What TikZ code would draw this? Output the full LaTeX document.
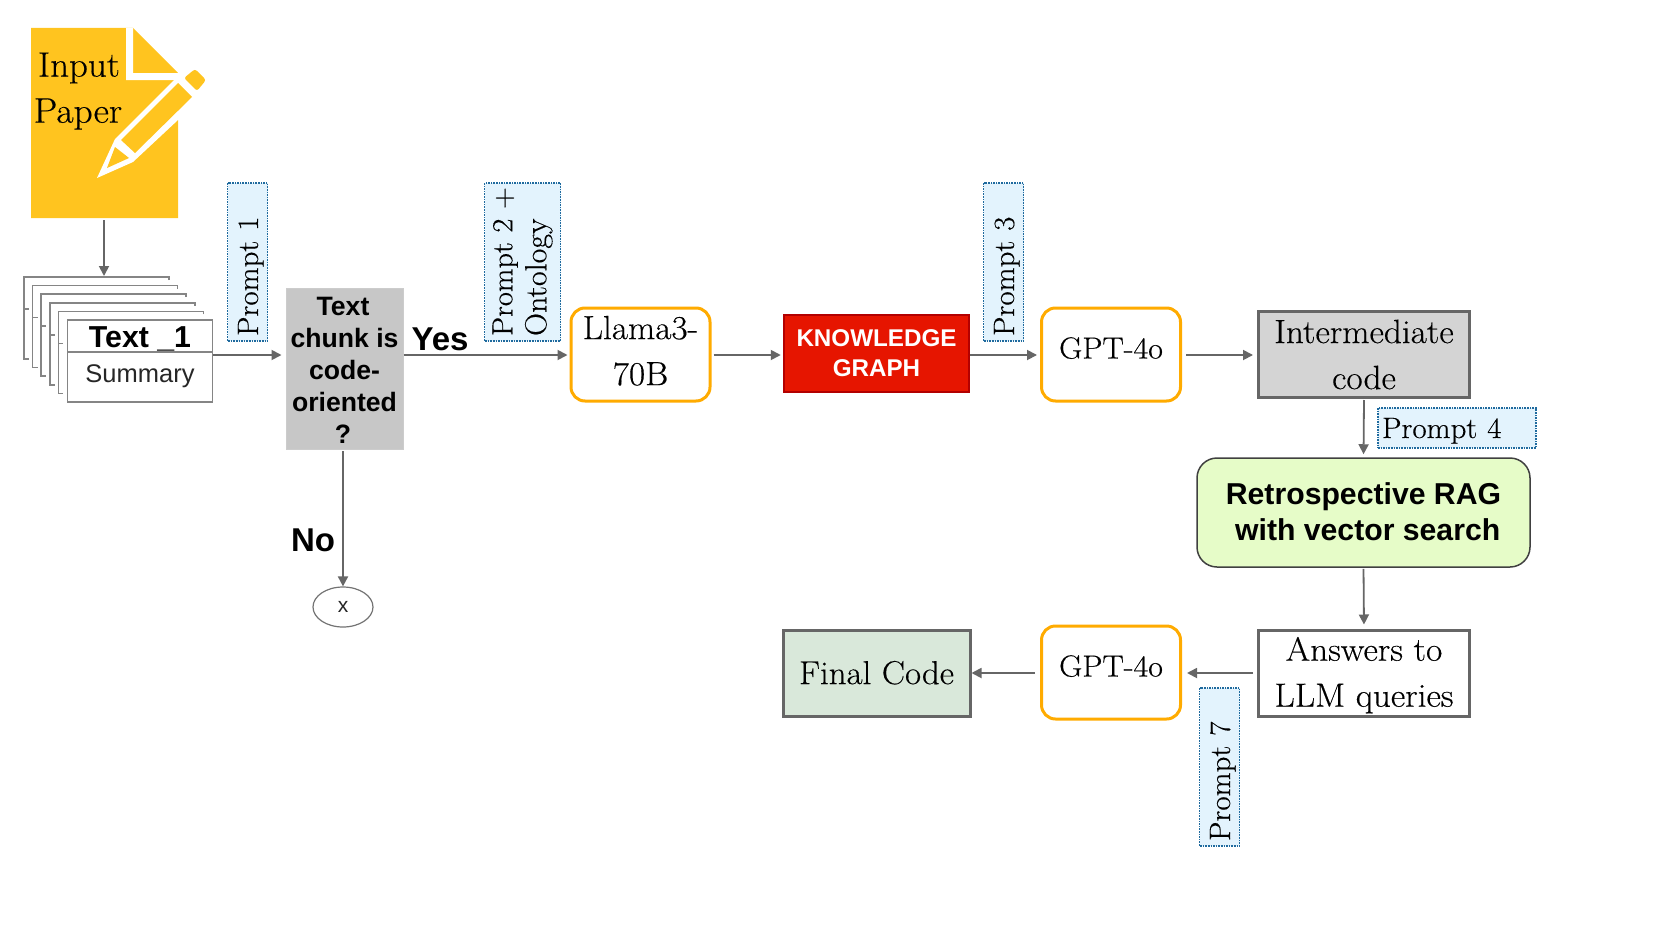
\documentclass[tikz,border=0pt]{standalone}
\usepackage{fontspec}
\setmainfont{Latin Modern Roman}[FakeStretch=1.05,FakeBold=0.3]
\newfontfamily\arial{Liberation Sans}
\usetikzlibrary{arrows.meta,calc,shapes.geometric}
\definecolor{conn}{HTML}{666666}
\definecolor{docy}{HTML}{FFC41F}
\definecolor{orng}{HTML}{FFAB00}
\definecolor{pfill}{HTML}{E3F3FD}
\definecolor{pline}{HTML}{1F6A9E}
\definecolor{kgred}{HTML}{E61500}
\definecolor{kgedge}{HTML}{B30000}
\definecolor{ragfill}{HTML}{E6FCC8}
\definecolor{finalfill}{HTML}{D9E8DA}
\tikzset{
  arr/.style={draw=conn,line width=1.8pt,-{Triangle[length=10pt,width=10pt]}},
  serif32/.style={font=\fontsize{33.6}{46}\selectfont,align=center,inner sep=0pt,text=black},
  bbox/.style={rectangle,inner sep=0pt,align=center},
  grayedge/.style={draw=conn,line width=3pt,serif32},
  llm/.style={draw=orng,line width=3pt,fill=white,rounded corners=14pt,minimum width=139pt,minimum height=93pt,serif32},
  prompt/.style={draw=pline,densely dotted,line width=1.6pt,fill=pfill,font=\fontsize{29.5}{34}\selectfont,align=left,inner sep=0pt,text=black},
  vprompt/.style={prompt,rotate=90,text width=158pt,minimum height=40pt},
  card/.style={draw=black!48,line width=1.5pt},
  boldlbl/.style={font=\arial\bfseries\fontsize{33}{38}\selectfont,inner sep=0pt},
}
\begin{document}
\begin{tikzpicture}[x=1pt,y=-1pt]
\useasboundingbox (0,0) rectangle (1661,934);
\coordinate (r1) at (0,355);
\coordinate (r2) at (0,673);

% paper icon
\fill[docy] (31,28) -- (133,28) -- (178,73) -- (178,218) -- (31,218) -- cycle;
\fill[white] (126,28) -- (133,28) -- (133,73) -- (178,73) -- (178,80) -- (126,80) -- cycle;
\fill[white] (97,178) -- (115,139) -- (178,76) -- (215,76) -- (215,120) -- (178,120) -- (133,162) -- cycle;
\fill[white] (178,72) -- (190,72) -- (190,84) -- (178,84) -- cycle;
\fill[docy] (107,168) -- (115,147) -- (129,158) -- cycle;
\fill[docy] (121,140) -- (178,83) -- (192,97) -- (135,153) -- cycle;
\fill[docy,rounded corners=2.5pt] (184,78) -- (195,69) -- (206,80) -- (197,91) -- cycle;
\node[serif32,font=\fontsize{35.2}{40}\selectfont] (input) at (79,68) {Input};
\node[serif32,font=\fontsize{35.7}{40}\selectfont] (paper) at (78,114) {Paper};
\coordinate (docbot) at (104,220);
\coordinate (stacktop) at (104,276);

% stacked cards
\foreach \l/\t in {24/277,32.6/285.6,41.2/294.2,49.8/302.8,58.4/311.4}{
  \draw[card] ({\l+145},{\t+3}) -- ({\l+145},\t) -- (\l,\t) -- (\l,{\t+82}) -- ({\l+5},{\t+82});
  \draw[card] (\l,{\t+32}) -- ({\l+5},{\t+32});
}
\node[card,fill=white,minimum width=145pt,minimum height=32pt,inner sep=0pt,font=\arial\bfseries\fontsize{30.3}{34}\selectfont,text=black] (title) at (140,336) {\raisebox{-11pt}[0pt][0pt]{Text \_1}};
\node[card,fill=white,minimum width=145pt,minimum height=50pt,inner sep=0pt,font=\arial\fontsize{25.5}{30}\selectfont,text=black!85] (summary) at (140,377) {\raisebox{-5pt}[0pt][0pt]{Summary}};

% main boxes
\node[bbox,fill=black!22,draw=black!20,line width=1pt,minimum width=117pt,minimum height=161pt,font=\arial\bfseries\fontsize{26.6}{32}\selectfont,text=black] (decide) at (344.5,369) {\rule{0pt}{21pt}Text\hspace*{3pt}\\chunk is\hspace*{3pt}\\code-\hspace*{3pt}\\oriented\hspace*{3pt}\\?\hspace*{3pt}};
\node[llm] (llama) at (640.5,354.5) {Llama3-\\70B\rule[-8pt]{0pt}{1pt}};
\node[bbox,fill=kgred,draw=kgedge,line width=2.5pt,minimum width=185pt,minimum height=77pt,font=\arial\bfseries\fontsize{24.2}{30}\selectfont,text=white] (kg) at (876.5,353.5) {KNOWLEDGE\\GRAPH};
\node[llm,font=\fontsize{30.5}{46}\selectfont] (gpta) at (1111,354.5) {\raisebox{-4pt}[0pt][0pt]{GPT-4o}};
\node[grayedge,fill=black!17,minimum width=211pt,minimum height=86pt] (inter) at (1364,354.5) {Intermediate\\code};
\node[bbox,draw=black!75,line width=1.5pt,fill=ragfill,rounded corners=20pt,minimum width=333pt,minimum height=109pt,font=\arial\bfseries\fontsize{30.2}{36}\selectfont,text=black] (rag) at (1363.5,512.5) {Retrospective RAG\\\ with vector search\rule[-2pt]{0pt}{1pt}};
\node[grayedge,fill=white,minimum width=211pt,minimum height=86pt] (answers) at (1364,673) {\rule{0pt}{28pt}Answers to\\LLM queries};
\node[llm,font=\fontsize{30.5}{46}\selectfont] (gptb) at (1111,672.5) {\raisebox{-4pt}[0pt][0pt]{GPT-4o}};
\node[grayedge,fill=finalfill,minimum width=187pt,minimum height=86pt,font=\fontsize{33.2}{46}\selectfont] (final) at (876.5,673) {\raisebox{1pt}{Final Code}};
\node[ellipse,draw=black!55,line width=1.2pt,minimum width=60pt,minimum height=40pt,inner sep=0pt,font=\arial\fontsize{21}{24}\selectfont,text=black!85] (stop) at (343,607) {x};

% prompts
\node[vprompt] (p1) at (247.5,262) {\hspace*{5pt}\raisebox{-10.5pt}[0pt][0pt]{Prompt 1}};
\node[prompt,rotate=90,text width=158pt,minimum height=76pt,font=\fontsize{29}{34}\selectfont] (p2) at (522.5,262) {\hspace*{5pt}Prompt 2 +\\\hspace*{5pt}{\fontsize{30.5}{34}\selectfont Ontology}};
\node[vprompt] (p3) at (1003.5,262) {\hspace*{5pt}\raisebox{-10.5pt}[0pt][0pt]{Prompt 3}};
\node[prompt,text width=158pt,minimum height=40pt,inner xsep=0pt] (p4) at (1457,428) {\hspace*{4pt}\raisebox{-10pt}[0pt][0pt]{Prompt 4}};
\node[vprompt] (p7) at (1219.5,767) {\hspace*{5pt}\raisebox{-10.5pt}[0pt][0pt]{Prompt 7}};

% labels
\node[boldlbl,text=black] (yes) at (440,339) {Yes};
\node[boldlbl,text=black] (no) at (313,540) {No};

% connectors
\draw[arr] (docbot) -- (stacktop);
\draw[arr,shorten >=4pt] (summary.east |- r1) -- (decide.west |- r1);
\draw[arr,shorten >=2pt] (decide.east |- r1) -- (llama.west |- r1);
\draw[arr,shorten <=2pt,shorten >=2pt] (llama.east |- r1) -- (kg.west |- r1);
\draw[arr,shorten >=3pt] (kg.east |- r1) -- (gpta.west |- r1);
\draw[arr,shorten <=4pt,shorten >=4pt] (gpta.east |- r1) -- (inter.west |- r1);
\draw[arr,shorten <=1pt,shorten >=3pt] (inter.south) -- (rag.north);
\draw[arr,shorten <=1pt,shorten >=4pt] (rag.south) -- (answers.north);
\draw[arr,shorten <=4pt,shorten >=5pt] (answers.west |- r2) -- (gptb.east |- r2);
\draw[arr,shorten <=5pt] (gptb.west |- r2) -- (final.east |- r2);
\draw[arr,shorten <=1pt] (decide.south -| stop) -- (stop.north);
\end{tikzpicture}
\end{document}
